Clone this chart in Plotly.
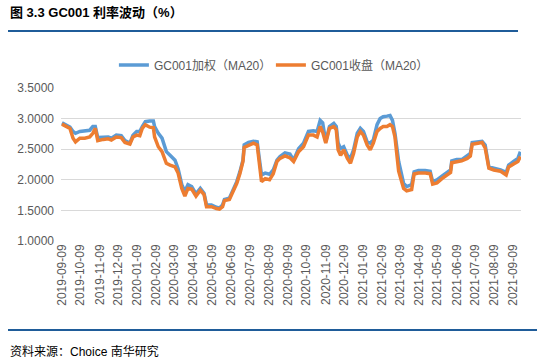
import plotly.graph_objects as go

dates = [
    "2019-09-09", "2019-09-17", "2019-09-22", "2019-09-27", "2019-10-01", "2019-10-08",
    "2019-10-16", "2019-10-24", "2019-10-29", "2019-11-02", "2019-11-06", "2019-11-15",
    "2019-11-23", "2019-11-28", "2019-12-06", "2019-12-14", "2019-12-20", "2019-12-28",
    "2020-01-02", "2020-01-08", "2020-01-13", "2020-01-17", "2020-01-22", "2020-01-29",
    "2020-02-04", "2020-02-06", "2020-02-12", "2020-02-18", "2020-02-25", "2020-03-02",
    "2020-03-10", "2020-03-15", "2020-03-21", "2020-03-26", "2020-03-31", "2020-04-06",
    "2020-04-13", "2020-04-20", "2020-04-26", "2020-04-30", "2020-05-08", "2020-05-16",
    "2020-05-21", "2020-05-26", "2020-05-29", "2020-06-06", "2020-06-11", "2020-06-18",
    "2020-06-23", "2020-06-28", "2020-06-30", "2020-07-07", "2020-07-15", "2020-07-21",
    "2020-07-24", "2020-07-28", "2020-08-03", "2020-08-10", "2020-08-16", "2020-08-22",
    "2020-08-27", "2020-09-04", "2020-09-12", "2020-09-18", "2020-09-26", "2020-10-04",
    "2020-10-12", "2020-10-20", "2020-10-26", "2020-10-31", "2020-11-04", "2020-11-09",
    "2020-11-15", "2020-11-22", "2020-11-26", "2020-11-29", "2020-12-03", "2020-12-08",
    "2020-12-14", "2020-12-19", "2020-12-24", "2020-12-30", "2021-01-04", "2021-01-09",
    "2021-01-15", "2021-01-20", "2021-01-25", "2021-01-31", "2021-02-05", "2021-02-10",
    "2021-02-16", "2021-02-21", "2021-02-25", "2021-03-01", "2021-03-07", "2021-03-12",
    "2021-03-15", "2021-03-20", "2021-03-28", "2021-04-01", "2021-04-08", "2021-04-19",
    "2021-04-27", "2021-05-01", "2021-05-08", "2021-05-16", "2021-05-24", "2021-05-30",
    "2021-06-01", "2021-06-09", "2021-06-17", "2021-06-26", "2021-07-01", "2021-07-04",
    "2021-07-12", "2021-07-20", "2021-07-25", "2021-07-29", "2021-07-31", "2021-08-08",
    "2021-08-19", "2021-08-28", "2021-09-01", "2021-09-09", "2021-09-16", "2021-09-20",
]

gc001_weighted = [
    2.93, 2.88, 2.86, 2.79, 2.76, 2.79,
    2.80, 2.81, 2.87, 2.87, 2.69, 2.70,
    2.70, 2.68, 2.73, 2.72, 2.64, 2.60,
    2.73, 2.79, 2.79, 2.87, 2.95, 2.96,
    2.96, 2.87, 2.76, 2.68, 2.46, 2.40,
    2.32, 2.18, 1.92, 1.81, 1.92, 1.89,
    1.77, 1.86, 1.78, 1.59, 1.59, 1.55,
    1.54, 1.59, 1.68, 1.70, 1.81, 1.97,
    2.13, 2.32, 2.57, 2.61, 2.63, 2.62,
    2.38, 2.08, 2.11, 2.09, 2.16, 2.32,
    2.38, 2.44, 2.42, 2.32, 2.51, 2.60,
    2.79, 2.80, 2.79, 2.97, 2.93, 2.62,
    2.87, 2.92, 2.87, 2.60, 2.51, 2.54,
    2.40, 2.35, 2.49, 2.76, 2.84, 2.79,
    2.62, 2.60, 2.65, 2.90, 3.00, 3.03,
    3.04, 3.05, 2.97, 2.76, 2.30, 2.05,
    1.94, 1.89, 1.92, 2.13, 2.15, 2.15,
    2.14, 1.97, 2.00, 2.06, 2.12, 2.16,
    2.31, 2.33, 2.33, 2.39, 2.43, 2.61,
    2.62, 2.63, 2.57, 2.35, 2.21, 2.19,
    2.16, 2.12, 2.24, 2.30, 2.35, 2.46,
]

gc001_close = [
    2.91, 2.86, 2.84, 2.68, 2.62, 2.68,
    2.68, 2.70, 2.76, 2.84, 2.64, 2.66,
    2.67, 2.65, 2.70, 2.69, 2.61, 2.585,
    2.70, 2.73, 2.72, 2.84, 2.90, 2.86,
    2.85, 2.70, 2.54, 2.46, 2.27, 2.24,
    2.21, 2.11, 1.86, 1.735, 1.86, 1.85,
    1.735, 1.83, 1.76, 1.56, 1.56, 1.53,
    1.52, 1.56, 1.66, 1.68, 1.78, 1.94,
    2.10, 2.30, 2.53, 2.57, 2.60, 2.57,
    2.33, 1.97, 2.02, 2.00, 2.10, 2.30,
    2.35, 2.39, 2.36, 2.30, 2.46, 2.54,
    2.73, 2.73, 2.70, 2.87, 2.78, 2.60,
    2.84, 2.87, 2.82, 2.49, 2.40, 2.49,
    2.35, 2.27, 2.43, 2.70, 2.79, 2.73,
    2.57, 2.49, 2.60, 2.79, 2.84, 2.87,
    2.87, 2.90, 2.87, 2.70, 2.14, 1.94,
    1.86, 1.82, 1.84, 2.095, 2.11, 2.11,
    2.10, 1.93, 1.95, 2.02, 2.08, 2.12,
    2.28, 2.30, 2.31, 2.35, 2.39, 2.58,
    2.60, 2.61, 2.52, 2.30, 2.19, 2.16,
    2.14, 2.08, 2.21, 2.26, 2.30, 2.38,
]

tick_labels = [
    "2019-09-09", "2019-10-09", "2019-11-09", "2019-12-09", "2020-01-09", "2020-02-09",
    "2020-03-09", "2020-04-09", "2020-05-09", "2020-06-09", "2020-07-09", "2020-08-09",
    "2020-09-09", "2020-10-09", "2020-11-09", "2020-12-09", "2021-01-09", "2021-02-09",
    "2021-03-09", "2021-04-09", "2021-05-09", "2021-06-09", "2021-07-09", "2021-08-09",
    "2021-09-09",
]

series_names = ["GC001加权（MA20）", "GC001收盘（MA20）"]
y_ticks = [1.0, 1.5, 2.0, 2.5, 3.0, 3.5]

FONT = "Liberation Sans, Arial, Noto Sans CJK SC, sans-serif"
GREY = "#595959"

fig = go.Figure()
fig.add_trace(go.Scatter(x=dates, y=gc001_weighted, mode="lines", name=series_names[0],
                         line=dict(color="#5B9BD5", width=3.5)))
fig.add_trace(go.Scatter(x=dates, y=gc001_close, mode="lines", name=series_names[1],
                         line=dict(color="#ED7D31", width=3.5)))

fig.update_layout(
    width=541, height=360,
    margin=dict(l=61, r=20, t=88, b=119),
    paper_bgcolor="white", plot_bgcolor="white",
    font=dict(family=FONT, size=12, color=GREY),
    showlegend=True,
    legend=dict(orientation="h", x=0.115, xanchor="left", y=1.15, yanchor="middle",
                font=dict(size=12, color=GREY), itemwidth=30, bgcolor="rgba(0,0,0,0)",
                traceorder="normal", entrywidth=112, entrywidthmode="pixels"),
    xaxis=dict(type="date", range=["2019-09-07 12:00", "2021-09-21"],
               tickmode="array", tickvals=tick_labels, ticktext=tick_labels,
               tickangle=-90, showgrid=False, zeroline=False, showline=False,
               ticks="", tickfont=dict(size=12, color=GREY)),
    yaxis=dict(range=[1.0, 3.5], tickmode="array", tickvals=y_ticks,
               ticktext=[f"{v:.4f}" for v in y_ticks], showgrid=True,
               gridcolor="#D9D9D9", gridwidth=1, zeroline=False, showline=False,
               ticks="", ticklabelstandoff=6, tickfont=dict(size=12, color=GREY)),
)

# title and source text
fig.add_annotation(text="<b>图 3.3 GC001 利率波动（%）</b>", xref="paper", yref="paper",
                   x=-0.115, y=(241 - 12) / 153, xanchor="left", yanchor="middle",
                   showarrow=False, font=dict(size=13, color="#000000",
                                              family="Liberation Sans, Noto Sans CJK SC"))
fig.add_annotation(text="资料来源：Choice 南华研究", xref="paper", yref="paper",
                   x=-0.115, y=(241 - 351) / 153, xanchor="left", yanchor="middle",
                   showarrow=False, font=dict(size=12, color="#000000",
                                              family="Liberation Sans, Noto Sans CJK SC"))

# rules
fig.add_shape(type="line", xref="paper", yref="paper", x0=-0.1152, x1=0.9935,
              y0=(241 - 31) / 153, y1=(241 - 31) / 153, line=dict(color="#1F5C99", width=2))
fig.add_shape(type="line", xref="paper", yref="paper", x0=-0.1152, x1=1.0348,
              y0=(241 - 330) / 153, y1=(241 - 330) / 153, line=dict(color="#1F5C99", width=2))

fig.write_html("out.html", config={"displayModeBar": False},
               post_script="document.body.style.margin='0';")
